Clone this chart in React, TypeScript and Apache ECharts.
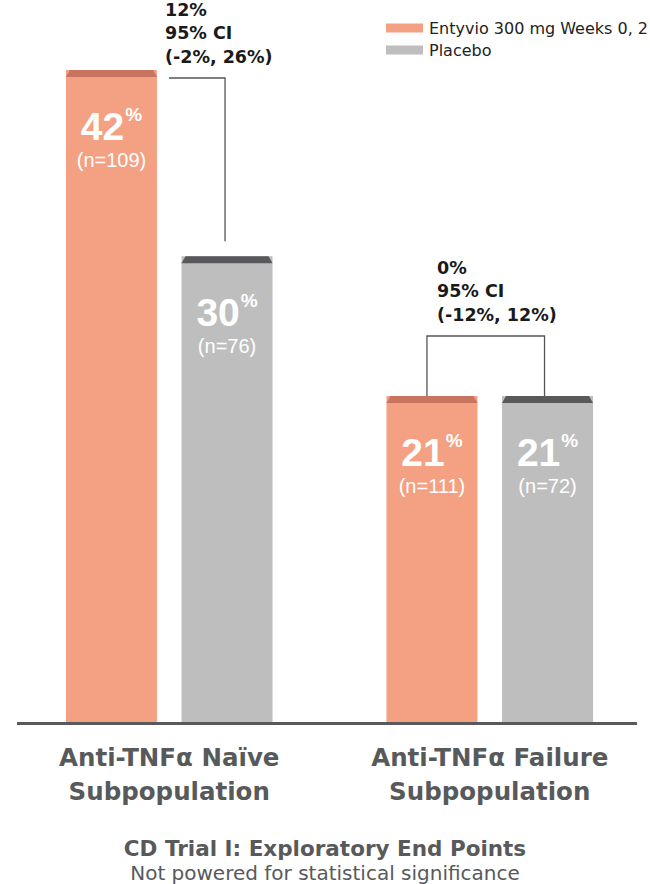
import React, { useEffect, useRef } from 'react';
import * as echarts from 'echarts';

// ---- Data ----
const categories = ['Anti-TNFα Naïve\nSubpopulation', 'Anti-TNFα Failure\nSubpopulation'];
const seriesNames = ['Entyvio 300 mg Weeks 0, 2', 'Placebo'];
const entyvioValues = [42, 21];
const placeboValues = [30, 21];
const entyvioN = [109, 111];
const placeboN = [76, 72];
const ciDiff = ['12%', '0%'];
const ciRange = ['(-2%, 26%)', '(-12%, 12%)'];
const titleText = 'CD Trial I: Exploratory End Points';
const subtitleText = 'Not powered for statistical significance';

// ---- Styles ----
const ORANGE = '#F3A083';
const ORANGE_CAP = '#C9745E';
const GRAY = '#BEBEBE';
const GRAY_CAP = '#58595B';
const TEXT_GRAY = '#58595B';
const BAR_W = 91;
const BAR_GAP = 0.27;
const CAP_H = 7;
const CAP_INSET = 4;
const SANS = "'Noto Sans', sans-serif";
const WIDE = "'DejaVu Sans', sans-serif";
const LIB = "'Liberation Sans', sans-serif";

function barLabel(nArr: number[]) {
  return {
    show: true,
    position: 'insideTop',
    distance: 35,
    formatter: (p: any) => `{big|${p.value}}{sup|%}\n{n|(n=${nArr[p.dataIndex]})}`,
    rich: {
      big: { fontSize: 39, fontFamily: LIB, fontWeight: 'bold', color: '#fff', lineHeight: 42 },
      sup: { fontSize: 19, fontFamily: LIB, fontWeight: 'bold', color: '#fff', lineHeight: 22, verticalAlign: 'top', padding: [0, 0, 0, 1] },
      n: { fontSize: 20, fontFamily: LIB, color: '#fff', lineHeight: 26 },
    },
  };
}

export default function App() {
  const ref = useRef<HTMLDivElement>(null);
  useEffect(() => {
    document.body.style.margin = '0';
    if (!ref.current) return;
    const chart = echarts.init(ref.current, undefined, { renderer: 'svg' });
    const annot = categories.map((_, i) => [i, entyvioValues[i], placeboValues[i]]);
    chart.setOption({
      animation: false,
      backgroundColor: '#fff',
      textStyle: { fontFamily: SANS },
      title: {
        text: titleText,
        subtext: subtitleText,
        left: 'center',
        top: 836,
        padding: 0,
        itemGap: 4,
        textStyle: { fontSize: 21.5, fontWeight: 'bold', color: TEXT_GRAY, fontFamily: WIDE, lineHeight: 24 },
        subtextStyle: { fontSize: 20, color: TEXT_GRAY, fontFamily: WIDE, lineHeight: 18 },
      },
      legend: {
        data: seriesNames,
        orient: 'vertical',
        left: 386,
        top: 20,
        padding: 0,
        itemWidth: 37,
        itemHeight: 9,
        itemGap: 6,
        icon: 'rect',
        textStyle: { fontSize: 16, color: '#222', fontFamily: WIDE, lineHeight: 16, padding: [0, 0, 0, 1] },
      },
      grid: { left: 9, right: 0, top: 70, bottom: 162, containLabel: false },
      xAxis: {
        type: 'category',
        data: categories,
        axisLine: { show: false },
        axisTick: { show: false },
        axisLabel: {
          margin: 18,
          fontSize: 24.5,
          fontWeight: 'bold',
          lineHeight: 34,
          color: TEXT_GRAY,
          fontFamily: WIDE,
          interval: 0,
        },
      },
      yAxis: { type: 'value', min: 0, max: 'dataMax', show: false, splitLine: { show: false } },
      graphic: [
        { type: 'rect', shape: { x: 17, y: 722, width: 620, height: 3 }, style: { fill: '#58595B' }, z: 10 },
      ],
      series: [
        {
          name: seriesNames[0],
          type: 'bar',
          data: entyvioValues,
          barWidth: BAR_W,
          barGap: `${BAR_GAP * 100}%`,
          itemStyle: { color: ORANGE },
          label: barLabel(entyvioN),
        },
        {
          name: seriesNames[1],
          type: 'bar',
          data: placeboValues,
          barWidth: BAR_W,
          barGap: `${BAR_GAP * 100}%`,
          itemStyle: { color: GRAY },
          label: barLabel(placeboN),
        },
        {
          type: 'custom',
          silent: true,
          z: 5,
          encode: { x: 0, y: [1, 2] },
          data: annot,
          renderItem: (params: any, api: any) => {
            const i = params.dataIndex;
            const cx = api.coord([i, 0])[0];
            const yE = api.coord([i, api.value(1)])[1];
            const yP = api.coord([i, api.value(2)])[1];
            const off = (BAR_W + BAR_W * BAR_GAP) / 2;
            const half = BAR_W / 2;
            const xE = cx - off;
            const xP = cx + off;
            const cap = (x: number, y: number, color: string) => ({
              type: 'polygon',
              shape: {
                points: [
                  [x - half, y + CAP_H],
                  [x - half + CAP_INSET, y],
                  [x + half - CAP_INSET, y],
                  [x + half, y + CAP_H],
                ],
              },
              style: { fill: color },
            });
            const different = Math.abs(yE - yP) > 1;
            let pts: number[][];
            let bracketY: number;
            let textX: number;
            if (different) {
              bracketY = Math.min(yE, yP) + 8;
              pts = [[xE + half + 12, bracketY], [xP - 2, bracketY], [xP - 2, yP - 15]];
              textX = xE + half + 8;
            } else {
              bracketY = yE - 60;
              pts = [[xE - 5, yE], [xE - 5, bracketY], [xP - 3, bracketY], [xP - 3, yP]];
              textX = xE + 5;
            }
            const lines = [ciRange[i], '95% CI', ciDiff[i]];
            const texts = lines.map((t, k) => ({
              type: 'text',
              x: textX,
              y: bracketY - 21.5 - 23.3 * k,
              style: {
                text: t,
                fill: '#1a1a1a',
                fontSize: 17.5,
                fontWeight: 'bold',
                fontFamily: WIDE,
                align: 'left',
                verticalAlign: 'middle',
                textAlign: 'left',
                textVerticalAlign: 'middle',
              },
            }));
            return {
              type: 'group',
              children: [
                cap(xE, yE, ORANGE_CAP),
                cap(xP, yP, GRAY_CAP),
                {
                  type: 'polyline',
                  shape: { points: pts },
                  style: { stroke: '#555', lineWidth: 1.3, fill: 'none' },
                },
                ...texts,
              ],
            };
          },
        },
      ],
    });
    return () => chart.dispose();
  }, []);
  return <div ref={ref} style={{ width: 650, height: 884 }} />;
}
